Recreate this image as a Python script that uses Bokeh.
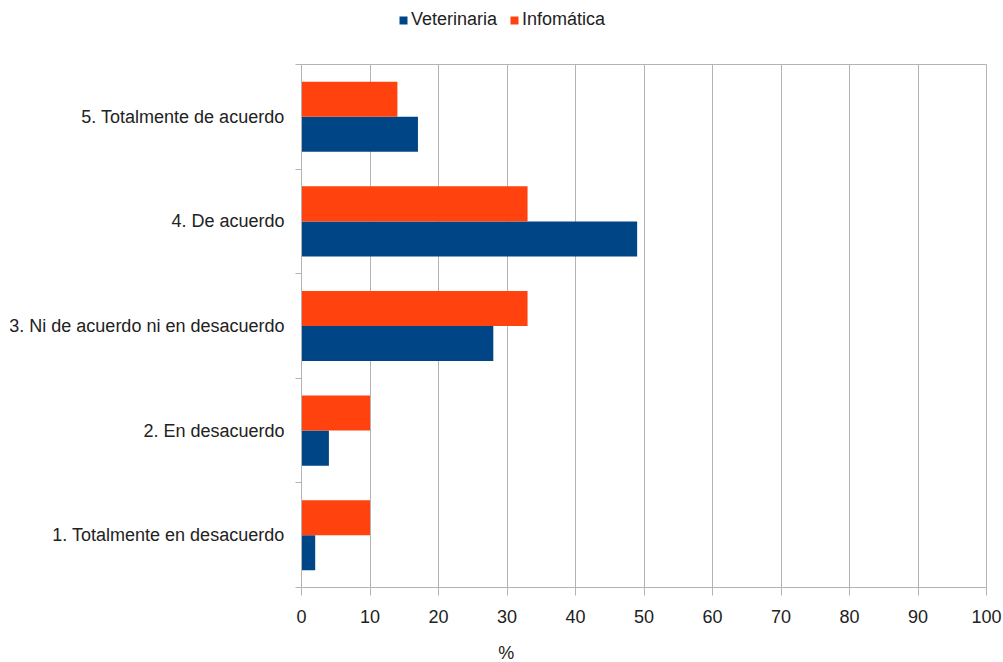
from bokeh.plotting import figure
from bokeh.layouts import column
from bokeh.models import ColumnDataSource, FixedTicker, Legend, LegendItem, Label, Range1d
from bokeh.transform import dodge
from bokeh.embed import file_html
from bokeh.resources import INLINE

categories = ["1. Totalmente en desacuerdo", "2. En desacuerdo",
              "3. Ni de acuerdo ni en desacuerdo", "4. De acuerdo",
              "5. Totalmente de acuerdo"]
veterinaria = [2, 4, 28, 49, 17]
informatica = [10, 10, 33, 33, 14]
series_names = ["Veterinaria", "Infomática"]
series_colors = ["#004586", "#ff420e"]
x_ticks = [0, 10, 20, 30, 40, 50, 60, 70, 80, 90, 100]

pos = list(range(1, len(categories) + 1))
src = ColumnDataSource(dict(pos=pos, cat=categories, vet=veterinaria, inf=informatica))

FONT = "Liberation Sans"
GRID = "#b3b3b3"
TXT = "#222222"


def strip(h):
    f = figure(width=1003, height=h, output_backend="svg", toolbar_location=None,
               x_range=Range1d(0, 100), y_range=Range1d(0, h),
               min_border_left=301, min_border_right=17, min_border_top=0, min_border_bottom=0)
    f.axis.visible = False
    f.grid.visible = False
    f.outline_line_color = None
    f.background_fill_color = "white"
    f.border_fill_color = "white"
    return f


# ---- legend strip (top) ----
lg = strip(64)
dummy = ColumnDataSource(dict(l=[-20], r=[-10], b=[-20], t=[-10]))
lr = [lg.quad(left="l", right="r", bottom="b", top="t", source=dummy,
              fill_color=c, line_color=None) for c in series_colors]
legend = Legend(items=[LegendItem(label=n, renderers=[r]) for n, r in zip(series_names, lr)],
                orientation="horizontal", location=(97, 34),
                label_text_font=FONT, label_text_font_size="18px", label_text_color=TXT,
                glyph_width=10, glyph_height=10, label_standoff=3, spacing=12,
                padding=0, margin=0, border_line_color=None, background_fill_alpha=0)
lg.add_layout(legend, "center")

# ---- main chart ----
p = figure(width=1003, height=568, output_backend="svg", toolbar_location=None,
           x_range=Range1d(0, 100), y_range=Range1d(0.5, 5.5),
           min_border_left=301, min_border_right=17, min_border_top=0, min_border_bottom=45)
p.background_fill_color = "white"
p.border_fill_color = "white"
p.outline_line_color = GRID
p.outline_line_width = 1

bw = 0.335
r_vet = p.hbar(y=dodge("pos", -bw / 2), right="vet", left=0, height=bw, source=src,
               fill_color=series_colors[0], line_color=None)
r_inf = p.hbar(y=dodge("pos", bw / 2), right="inf", left=0, height=bw, source=src,
               fill_color=series_colors[1], line_color=None)

# x axis
p.xaxis.ticker = FixedTicker(ticks=x_ticks)
p.xaxis.axis_line_color = GRID
p.xaxis.major_tick_line_color = GRID
p.xaxis.major_tick_out = 8
p.xaxis.major_tick_in = 0
p.xaxis.minor_tick_line_color = None
p.xaxis.major_label_text_font = FONT
p.xaxis.major_label_text_font_size = "18px"
p.xaxis.major_label_text_color = TXT
p.xaxis.major_label_standoff = 14

# y axis
p.yaxis.ticker = FixedTicker(ticks=pos, minor_ticks=[0.5, 1.5, 2.5, 3.5, 4.5, 5.5])
p.yaxis.major_label_overrides = {i: c for i, c in zip(pos, categories)}
p.yaxis.axis_line_color = GRID
p.yaxis.major_tick_line_color = None
p.yaxis.major_tick_out = 0
p.yaxis.major_tick_in = 0
p.yaxis.minor_tick_line_color = GRID
p.yaxis.minor_tick_out = 6
p.yaxis.minor_tick_in = 0
p.yaxis.major_label_text_font = FONT
p.yaxis.major_label_text_font_size = "18px"
p.yaxis.major_label_text_color = TXT
p.yaxis.major_label_standoff = 11

p.xgrid.ticker = FixedTicker(ticks=x_ticks)
p.xgrid.grid_line_color = GRID
p.ygrid.grid_line_color = None

# ---- axis title strip (bottom) ----
bt = strip(30)
bt.add_layout(Label(x=29.9, y=10, text="%", text_font=FONT, text_font_size="18px",
                    text_align="center", text_baseline="middle", text_color=TXT))

open("out.html", "w").write(file_html(column(lg, p, bt, spacing=0), INLINE))
